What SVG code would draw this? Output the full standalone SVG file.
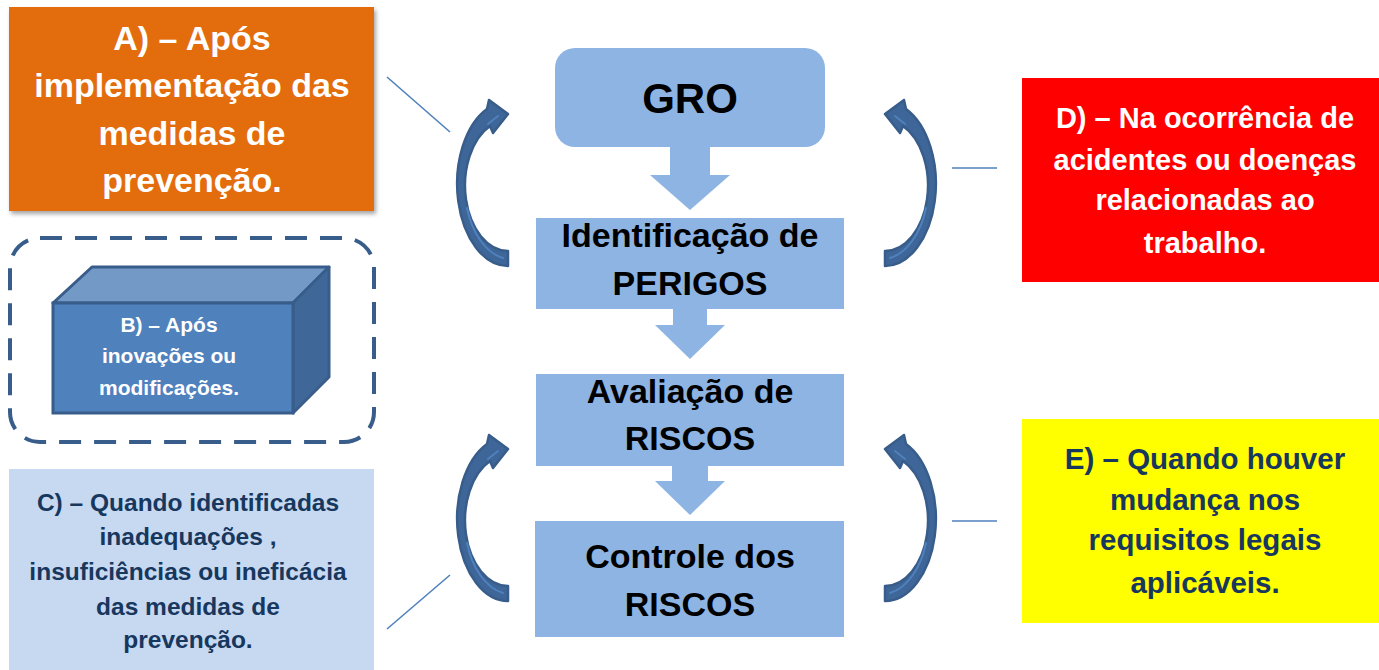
<svg xmlns="http://www.w3.org/2000/svg" width="1379" height="670" viewBox="0 0 1379 670">
<defs>
<style>
text{font-family:"Liberation Sans",Arial,sans-serif;font-weight:bold;text-anchor:middle}
.w{fill:#ffffff}
.n{fill:#17375E}
.k{fill:#000000}
.step{fill:#8EB4E3}
.conn{stroke:#4F81BD;stroke-width:1.6;fill:none}
.curve{fill:#3E6698;stroke:#385D8A;stroke-width:2.5;stroke-linejoin:round}
.hl{fill:none;stroke:#4F81BD;stroke-width:2;stroke-linecap:round}
</style>
<filter id="sh" x="-5%" y="-5%" width="115%" height="120%">
<feDropShadow dx="2" dy="3" stdDeviation="2" flood-color="#000" flood-opacity="0.35"/>
</filter>
<g id="curvedArrow">
<path class="curve" d="M508 266 A51 82.2 0 0 1 487 109 L489 100 L508 114 L493 133 L490 126 A43 65.5 0 0 0 508 251 Z"/>
<path class="hl" d="M503 258 A47 74 0 0 1 467 208"/>
<path class="hl" d="M488 124 L498 116"/>
</g>
</defs>
<rect width="1379" height="670" fill="#ffffff"/>

<g id="connectors">
<line class="conn" x1="387" y1="77" x2="450" y2="132"/>
<line class="conn" x1="387" y1="629" x2="450" y2="575"/>
<line class="conn" x1="952" y1="168" x2="997" y2="168"/>
<line class="conn" x1="952" y1="521" x2="997" y2="521"/>
<use href="#curvedArrow"/>
<use href="#curvedArrow" transform="translate(1393,0) scale(-1,1)"/>
<use href="#curvedArrow" transform="translate(0,335)"/>
<use href="#curvedArrow" transform="translate(1393,335) scale(-1,1)"/>
<path class="step" d="M670 146 H710 V175 H730 L690 210 L650 175 H670 Z"/>
<path class="step" d="M673 308 H707 V325 H725 L690 359 L655 325 H673 Z"/>
<path class="step" d="M672 465 H708 V481 H725 L690 515 L655 481 H672 Z"/>
</g>

<g id="nodeA">
<rect x="9" y="7" width="365" height="204" fill="#E36C0A" filter="url(#sh)"/>
<text class="w" x="192" y="50" font-size="34">A) – Após</text>
<text class="w" x="192" y="97" font-size="34">implementação das</text>
<text class="w" x="192" y="145" font-size="34">medidas de</text>
<text class="w" x="192" y="192" font-size="34">prevenção.</text>
</g>

<g id="nodeB">
<rect x="10" y="238" width="364" height="204" rx="30" fill="none" stroke="#385D8A" stroke-width="4" stroke-dasharray="22 13"/>
<path d="M53 303 L92 267 H329 L293 303 Z" fill="#7399C6" stroke="#385D8A" stroke-width="3" stroke-linejoin="round"/>
<path d="M293 303 L329 267 V377 L293 413 Z" fill="#3F6899" stroke="#385D8A" stroke-width="3" stroke-linejoin="round"/>
<rect x="53" y="303" width="240" height="110" fill="#4F81BD" stroke="#385D8A" stroke-width="3"/>
<text class="w" x="169" y="332" font-size="21">B) – Após</text>
<text class="w" x="169" y="363" font-size="21">inovações ou</text>
<text class="w" x="169" y="395" font-size="21">modificações.</text>
</g>

<g id="nodeC">
<rect x="9" y="469" width="365" height="201" fill="#C6D9F1"/>
<text class="n" x="188" y="511" font-size="24.5">C) – Quando identificadas</text>
<text class="n" x="188" y="545" font-size="24.5">inadequações ,</text>
<text class="n" x="188" y="580" font-size="24.5">insuficiências ou ineficácia</text>
<text class="n" x="188" y="615" font-size="24.5">das medidas de</text>
<text class="n" x="188" y="648" font-size="24.5">prevenção.</text>
</g>

<g id="nodeGRO">
<rect class="step" x="555" y="48" width="270" height="99" rx="20"/>
<text class="k" x="690" y="113" font-size="42">GRO</text>
</g>

<g id="nodeIdent">
<rect class="step" x="536" y="218" width="308" height="91"/>
<text class="k" x="690" y="247" font-size="34">Identificação de</text>
<text class="k" x="690" y="295" font-size="34">PERIGOS</text>
</g>

<g id="nodeAval">
<rect class="step" x="536" y="374" width="308" height="92"/>
<text class="k" x="690" y="403" font-size="34">Avaliação de</text>
<text class="k" x="690" y="450" font-size="34">RISCOS</text>
</g>

<g id="nodeControle">
<rect class="step" x="535" y="521" width="309" height="116"/>
<text class="k" x="690" y="568" font-size="34">Controle dos</text>
<text class="k" x="690" y="616" font-size="34">RISCOS</text>
</g>

<g id="nodeD">
<rect x="1022" y="78" width="357" height="204" fill="#FF0000"/>
<text class="w" x="1205" y="128" font-size="29">D) – Na ocorrência de</text>
<text class="w" x="1205" y="170" font-size="29">acidentes ou doenças</text>
<text class="w" x="1205" y="210" font-size="29">relacionadas ao</text>
<text class="w" x="1205" y="253" font-size="29">trabalho.</text>
</g>

<g id="nodeE">
<rect x="1022" y="419" width="357" height="204" fill="#FFFF00"/>
<text class="n" x="1205" y="469" font-size="29.5">E) – Quando houver</text>
<text class="n" x="1205" y="510" font-size="29.5">mudança nos</text>
<text class="n" x="1205" y="550" font-size="29.5">requisitos legais</text>
<text class="n" x="1205" y="593" font-size="29.5">aplicáveis.</text>
</g>
</svg>
